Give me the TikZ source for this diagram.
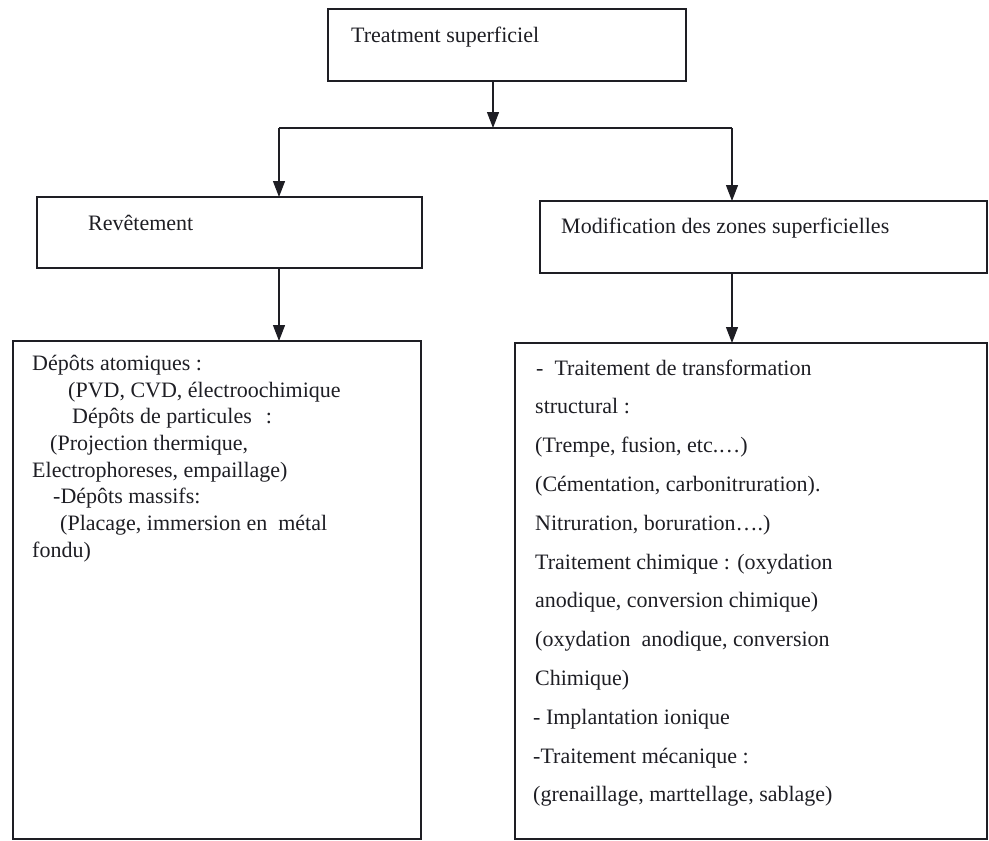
\documentclass[tikz,border=0pt]{standalone}
\usepackage{fontspec}
\setmainfont{Liberation Serif}
\usetikzlibrary{arrows.meta}
\definecolor{ink}{HTML}{1E1E24}
\begin{document}
\begin{tikzpicture}[x=1pt,y=-1pt,
 box/.style={draw=ink, line width=1.3pt, inner sep=0pt, outer sep=0pt, anchor=north west},
 txt/.style={anchor=base west, inner sep=0pt, font=\fontsize{22}{26}\selectfont, text=ink},
 arr/.style={draw=ink, line width=1.3pt, -{Triangle[width=12pt,length=16pt]}},
 wire/.style={draw=ink, line width=1.3pt}]
\useasboundingbox (0,0) rectangle (989,841);
% boxes
\node[box, minimum width=358pt, minimum height=72pt] (top) at (328,9) {};
\node[box, minimum width=385pt, minimum height=71pt] (rev) at (37,197) {};
\node[box, minimum width=447pt, minimum height=72pt] (mod) at (540,201) {};
\node[box, minimum width=408pt, minimum height=498pt] (lbox) at (13,341) {};
\node[box, minimum width=472pt, minimum height=496pt] (rbox) at (515,343) {};
% titles
\node[txt] (ttop) at (351,42) {Treatment superficiel};
\node[txt] (trev) at (88,230) {Revêtement};
\node[txt] (tmod) at (561,233) {Modification des zones superficielles};
% connectors
\coordinate (j) at (493,128);
\coordinate (jl) at (279,128);
\coordinate (jr) at (732,128);
\draw[arr] (top.south -| j) -- (j);
\draw[wire] (jl) -- (jr);
\draw[arr] (jl) -- (rev.north -| jl);
\draw[arr] (jr) -- (mod.north -| jr);
\draw[arr] (rev.south -| jl) -- (lbox.north -| jl);
\draw[arr] (mod.south -| jr) -- (rbox.north -| jr);
% left box text
\node[txt] (l1) at (32,370) {Dépôts atomiques :};
\node[txt] (l2) at (68,397) {(PVD, CVD, électroochimique};
\node[txt] (l3) at (72,423) {Dépôts de particules\hspace{14pt}:};
\node[txt] (l4) at (50,450) {(Projection thermique,};
\node[txt] (l5) at (32,477) {Electrophoreses, empaillage)};
\node[txt] (l6) at (53,503) {-Dépôts massifs:};
\node[txt] (l7) at (60,530) {(Placage, immersion en\hspace{11pt}métal};
\node[txt] (l8) at (32,557) {fondu)};
% right box text
\node[txt] (r1) at (536,375) {-\hspace{11pt}Traitement de transformation};
\node[txt] (r2) at (535,413.8) {structural :};
\node[txt] (r3) at (535,452.6) {(Trempe, fusion, etc.\dots)};
\node[txt] (r4) at (535,491.4) {(Cémentation, carbonitruration).};
\node[txt] (r5) at (535,530.2) {Nitruration, boruration\dots.)};
\node[txt] (r6) at (535,569) {Traitement chimique : (oxydation};
\node[txt] (r7) at (535,607.8) {anodique, conversion chimique)};
\node[txt] (r8) at (535,646.6) {(oxydation\hspace{11pt}anodique, conversion};
\node[txt] (r9) at (535,685.4) {Chimique)};
\node[txt] (r10) at (533,724.2) {- Implantation ionique};
\node[txt] (r11) at (533,763) {-Traitement mécanique :};
\node[txt] (r12) at (533,801.8) {(grenaillage, marttellage, sablage)};
\end{tikzpicture}
\end{document}
